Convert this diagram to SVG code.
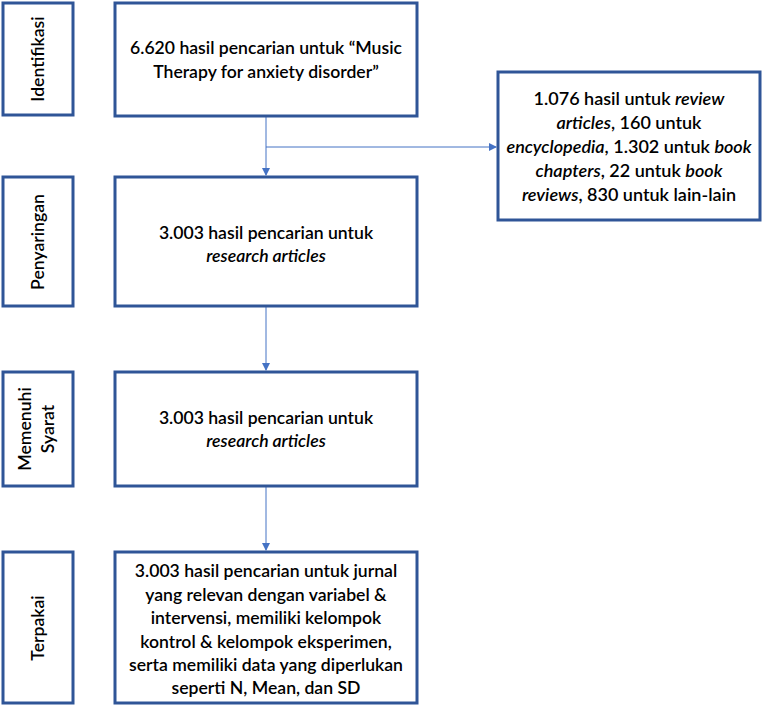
<svg xmlns="http://www.w3.org/2000/svg" width="763" height="712" viewBox="0 0 763 712">
<defs>
<style>
.box{fill:#fff;stroke:#2F5597;stroke-width:3}
.t{font-family:Lato,"Open Sans",sans-serif;font-size:17.6px;fill:#000;text-anchor:middle;font-weight:600}
.r{font-size:18px}
.i{font-style:italic}
.c{stroke:#4472C4;stroke-width:1;fill:none}
</style>
<marker id="ah" markerWidth="8" markerHeight="8" refX="7" refY="4" orient="auto" markerUnits="userSpaceOnUse">
<path d="M0,0 L8,4 L0,8 Z" fill="#4472C4"/>
</marker>
</defs>
<rect width="763" height="712" fill="#fff"/>
<g id="connectors">
<line class="c" x1="266" y1="117" x2="266" y2="175" marker-end="url(#ah)"/>
<line class="c" x1="266" y1="147" x2="496" y2="147" marker-end="url(#ah)"/>
<line class="c" x1="266" y1="307" x2="266" y2="370" marker-end="url(#ah)"/>
<line class="c" x1="266" y1="487" x2="266" y2="550" marker-end="url(#ah)"/>
</g>
<g id="lbl-identifikasi">
<rect class="box" x="3" y="3" width="70" height="112"/>
<text class="t" transform="translate(44,59) rotate(-90)">Identifikasi</text>
</g>
<g id="lbl-penyaringan">
<rect class="box" x="3" y="177" width="70" height="129"/>
<text class="t" transform="translate(44,242) rotate(-90)">Penyaringan</text>
</g>
<g id="lbl-memenuhi">
<rect class="box" x="3" y="372" width="70" height="114"/>
<text class="t" transform="translate(31,429) rotate(-90)">Memenuhi</text>
<text class="t" transform="translate(54,429) rotate(-90)">Syarat</text>
</g>
<g id="lbl-terpakai">
<rect class="box" x="3" y="552" width="70" height="151"/>
<text class="t" transform="translate(44,628) rotate(-90)">Terpakai</text>
</g>
<g id="node-identifikasi">
<rect class="box" x="115" y="3" width="302" height="113"/>
<text class="t" x="266" y="54">6.620 hasil pencarian untuk “Music</text>
<text class="t" x="266" y="78">Therapy for anxiety disorder”</text>
</g>
<g id="node-excluded">
<rect class="box" x="498" y="72" width="262" height="148"/>
<text class="t r" x="629" y="105">1.076 hasil untuk <tspan class="i">review</tspan></text>
<text class="t r" x="629" y="129"><tspan class="i">articles</tspan>, 160 untuk</text>
<text class="t r" x="629" y="153"><tspan class="i">encyclopedia</tspan>, 1.302 untuk <tspan class="i">book</tspan></text>
<text class="t r" x="629" y="177"><tspan class="i">chapters</tspan>, 22 untuk <tspan class="i">book</tspan></text>
<text class="t r" x="629" y="201"><tspan class="i">reviews</tspan>, 830 untuk lain-lain</text>
</g>
<g id="node-penyaringan">
<rect class="box" x="115" y="177" width="302" height="129"/>
<text class="t" x="266" y="239">3.003 hasil pencarian untuk</text>
<text class="t i" x="266" y="262">research articles</text>
</g>
<g id="node-memenuhi">
<rect class="box" x="115" y="372" width="302" height="114"/>
<text class="t" x="266" y="424">3.003 hasil pencarian untuk</text>
<text class="t i" x="266" y="447">research articles</text>
</g>
<g id="node-terpakai">
<rect class="box" x="115" y="552" width="302" height="151"/>
<text class="t" x="266" y="577">3.003 hasil pencarian untuk jurnal</text>
<text class="t" x="266" y="601">yang relevan dengan variabel &amp;</text>
<text class="t" x="266" y="624">intervensi, memiliki kelompok</text>
<text class="t" x="266" y="648">kontrol &amp; kelompok eksperimen,</text>
<text class="t" x="266" y="671">serta memiliki data yang diperlukan</text>
<text class="t" x="266" y="694">seperti N, Mean, dan SD</text>
</g>
</svg>
